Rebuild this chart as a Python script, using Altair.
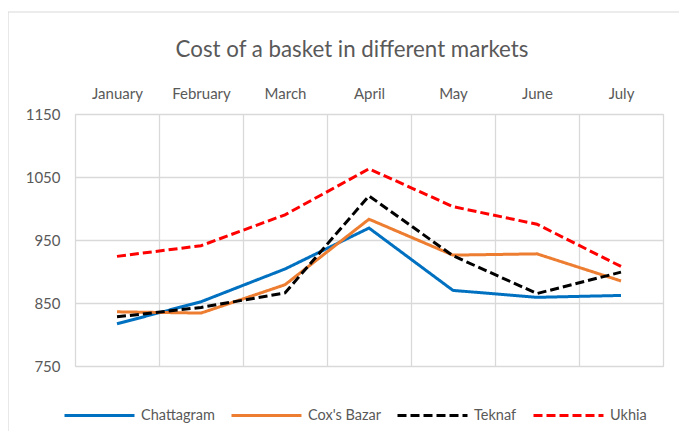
import altair as alt
import pandas as pd

months = ["January", "February", "March", "April", "May", "June", "July"]
markets = ["Chattagram", "Cox's Bazar", "Teknaf", "Ukhia"]
chattagram = [817, 852, 904, 969, 870, 859, 862]
coxs_bazar = [836, 834, 879, 983, 926, 928, 885]
teknaf = [828, 843, 866, 1020, 925, 865, 899]
ukhia = [924, 941, 990, 1063, 1003, 975, 908]
y_ticks = [750, 850, 950, 1050, 1150]

colors = ["#0070C0", "#ED7D31", "#000000", "#FF0000"]
dashes = [[1, 0], [1, 0], [9, 4], [9, 4]]

series = [chattagram, coxs_bazar, teknaf, ukhia]
rows = []
for m, vals in zip(markets, series):
    for mo, v in zip(months, vals):
        rows.append({"market": m, "month": mo, "cost": v})
df = pd.DataFrame(rows)

FONT = "Lato"
GREY = "#595959"
GRID = "#d9d9d9"

border = alt.Chart(pd.DataFrame({"a": [0]})).mark_rect(
    filled=False, stroke=GRID, strokeWidth=1.2, clip=False
).encode(
    x=alt.value(-67), x2=alt.value(700), y=alt.value(-102), y2=alt.value(500)
)

legend_cfg = dict(
    title=None, orient="none", direction="horizontal",
    legendX=-12, legendY=265, symbolType="stroke", symbolSize=4900,
    symbolStrokeWidth=3, labelFont=FONT, labelFontSize=14.5,
    labelColor=GREY, labelOffset=5, columnPadding=10,
)

lines = alt.Chart(df).mark_line(strokeWidth=3, strokeCap="butt").encode(
    x=alt.X(
        "month:N",
        sort=months,
        scale=alt.Scale(type="band", paddingInner=0, paddingOuter=0),
        axis=alt.Axis(
            orient="top", title=None, labelAngle=0, ticks=False, tickSize=0,
            domain=False, grid=True, tickBand="extent", labelPadding=13,
            labelFont=FONT, labelFontSize=15, labelColor=GREY,
            gridColor=GRID, gridWidth=1.3,
        ),
    ),
    y=alt.Y(
        "cost:Q",
        scale=alt.Scale(domain=[750, 1150], nice=False, zero=False),
        axis=alt.Axis(
            values=y_ticks, format="d", title=None, ticks=False, tickSize=0,
            domain=False, grid=True, labelPadding=15, labelFont=FONT,
            labelFontSize=15, labelColor=GREY, gridColor=GRID, gridWidth=1.3,
        ),
    ),
    color=alt.Color(
        "market:N",
        sort=markets,
        scale=alt.Scale(domain=markets, range=colors),
        legend=alt.Legend(**legend_cfg),
    ),
    strokeDash=alt.StrokeDash(
        "market:N",
        sort=markets,
        scale=alt.Scale(domain=markets, range=dashes),
        legend=alt.Legend(**legend_cfg),
    ),
)

chart = alt.layer(border, lines).properties(
    width=588,
    height=252,
    title=alt.TitleParams(
        "Cost of a basket in different markets", font=FONT, fontSize=22.3,
        fontWeight="normal", color=GREY, anchor="middle", dx=-17, offset=-50,
    ),
    autosize=alt.AutoSizeParams(type="none"),
    padding={"left": 67, "top": 106, "right": 16, "bottom": 65},
).configure_view(stroke=GRID, strokeWidth=1.3).configure(background="white")

chart.save("out.html", embed_options={"renderer": "svg", "actions": False})
